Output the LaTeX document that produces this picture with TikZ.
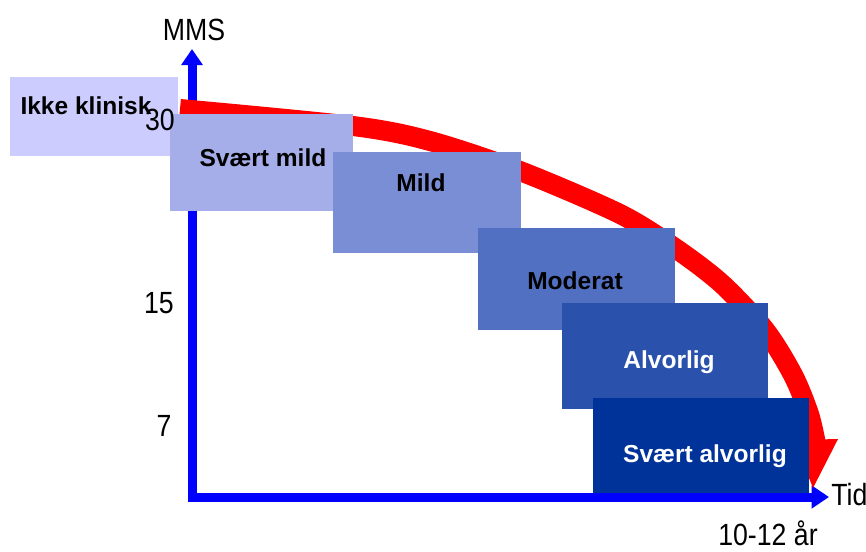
\documentclass[tikz,border=0pt]{standalone}
\usepackage{xcolor}
\usepackage{fontspec}
\setmainfont{Liberation Sans}
\newfontfamily\axisfont[FakeStretch=0.87]{Liberation Sans}
\usepackage{tikz}
\usetikzlibrary{arrows.meta, positioning}
\definecolor{myblue}{RGB}{0,0,255}
\definecolor{myred}{RGB}{255,0,0}
\definecolor{stgone}{RGB}{204,204,255}
\definecolor{stgtwo}{RGB}{165,174,232}
\definecolor{stgthree}{RGB}{122,142,214}
\definecolor{stgfour}{RGB}{81,112,194}
\definecolor{stgfive}{RGB}{42,82,172}
\definecolor{stgsix}{RGB}{0,51,153}
\tikzset{
  stage/.style={rectangle, inner sep=0pt, outer sep=0pt},
  stagetxt/.style={anchor=base, inner sep=0pt,
    font=\bfseries\fontsize{18.4}{22}\selectfont},
  axislbl/.style={anchor=base, inner sep=0pt,
    font=\axisfont\fontsize{23}{26}\selectfont},
  axis/.style={line width=6.75pt, color=myblue, line join=miter,
    {Triangle[length=12pt,width=15.5pt]}-{Triangle[length=13pt,width=16.5pt]}},
  decline/.style={line width=15pt, color=myred, line cap=butt}
}
\begin{document}
\begin{tikzpicture}[x=0.75pt, y=-0.75pt]
  \useasboundingbox (0,0) rectangle (866,551);

  % --- AXES ---
  \coordinate (ytop) at (192,49);
  \coordinate (origin) at (192,497);
  \coordinate (xend) at (829,497);
  \draw[axis] (ytop) -- (origin) -- (xend);

  % --- DECLINE CURVE ---
  \draw[decline] plot[smooth, tension=0.5] coordinates {(180,109) (353,126) (430,141) (520,171) (620,214) (675,248) (722,284) (765,330) (793,375) (809,414) (816,444)};
  \coordinate (tipl) at (794,440);
  \coordinate (tipr) at (838,439);
  \coordinate (tip) at (813,488);
  \fill[myred] (tipl) -- (tipr) -- (tip) -- cycle;

  % --- STAGES ---
  \node[stage, fill=stgone,   minimum width=126pt,   minimum height=59.25pt] (ikke)       at (94,116.5)  {};
  \node[stage, fill=stgtwo,   minimum width=137.25pt, minimum height=72.75pt] (svmild)    at (261.5,162.5) {};
  \node[stage, fill=stgthree, minimum width=141pt,   minimum height=75.75pt] (mild)       at (427,202.5) {};
  \node[stage, fill=stgfour,  minimum width=147.75pt, minimum height=76.5pt] (moderat)    at (576.5,279) {};
  \node[stage, fill=stgfive,  minimum width=154.5pt, minimum height=79.5pt] (alvorlig)    at (665,356)   {};
  \node[stage, fill=stgsix,   minimum width=162pt,   minimum height=71.25pt] (svalvorlig) at (701,445.5) {};

  \node[stagetxt] (ikketxt)       at (86,114)  {Ikke klinisk};
  \node[stagetxt] (svmildtxt)     at (263,166) {Svært mild};
  \node[stagetxt] (mildtxt)       at (421,191) {Mild};
  \node[stagetxt] (moderattxt)    at (575,289) {Moderat};
  \node[stagetxt, white] (alvorligtxt)   at (669,368) {Alvorlig};
  \node[stagetxt, white] (svalvorligtxt) at (705,462) {Svært alvorlig};

  % --- AXIS LABELS ---
  \node[axislbl] (mms)    at (194,40)  {MMS};
  \node[axislbl] (thirty) at (160,130) {30};
  \node[axislbl] (fifteen) at (159,313) {15};
  \node[axislbl] (seven)  at (164,436) {7};
  \node[axislbl, anchor=base west] (tid) at (831,505) {Tid};
  \node[axislbl] (years)  at (768,545) {10-12 år};
\end{tikzpicture}
\end{document}
